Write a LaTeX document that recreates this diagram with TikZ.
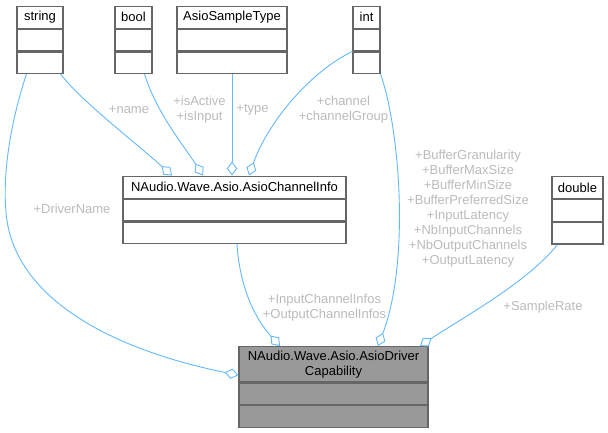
\documentclass[tikz,border=0pt]{standalone}
\usepackage{fontspec}
\setmainfont{Liberation Sans}
\usetikzlibrary{positioning, arrows.meta}
\definecolor{edgeblue}{HTML}{63B8FF}
\definecolor{boxgray}{HTML}{666666}
\definecolor{rolegray}{HTML}{BBBBBB}
\definecolor{capfill}{HTML}{999999}
\tikzset{
  classtitle/.style={draw=boxgray, line width=1.2pt, fill=white, align=center,
    font=\fontsize{13}{15}\selectfont, minimum height=22pt,
    inner xsep=3pt, inner ysep=4pt, anchor=north},
  classrow/.style={draw=boxgray, line width=1.2pt, fill=white,
    minimum height=21.5pt, inner sep=0pt}
}
\tikzset{
  assoc/.style={draw=edgeblue, line width=0.9pt,
    -{Diamond[open, length=14pt, width=10.5pt]}},
  rolelabel/.style={font=\fontsize{13}{15}\selectfont, text=rolegray, align=center}
}
% one class box: title and two empty compartments
\newcommand{\umlclass}[4][]{%
  \node[classtitle, #1] (#2) at #3 {#4};
  \node[classrow, #1, below=0pt of #2] (#2-a) {};
  \node[classrow, #1, below=0pt of #2-a] (#2-b) {};
}

\begin{document}
\begin{tikzpicture}[x=1pt, y=-1pt]
  \useasboundingbox (0,0) rectangle (608,432);
  \umlclass[minimum width=46pt]{str}{(40,5.5)}{string}
  \umlclass[minimum width=37pt]{bool}{(133.5,5.5)}{bool}
  \umlclass[minimum width=110pt]{ast}{(232,5.5)}{AsioSampleType}
  \umlclass[minimum width=27pt]{int}{(366.5,5.5)}{int}
  \umlclass[minimum width=223pt]{info}{(234.5,175.5)}{NAudio.Wave.Asio.AsioChannelInfo}
  \umlclass[minimum width=51pt]{dbl}{(577.5,176)}{double}
  \umlclass[minimum width=189pt, fill=capfill]{cap}{(333.5,346)}{NAudio.Wave.Asio.AsioDriver\\Capability}

  % members of AsioChannelInfo
  \draw[assoc] ([xshift=-3pt]str-b.south east)
    .. controls (82,102) and (135,142) .. ([xshift=-62.5pt]info.north);
  \draw[assoc] ([xshift=-8pt]bool-b.south east)
    .. controls (156,112) and (184,146) .. ([xshift=-31.5pt]info.north);
  \draw[assoc] (ast-b.south) -- (ast-b.south |- info.north);
  \draw[assoc] (int-a.south west)
    .. controls (310,72) and (268,122) .. ([xshift=14.5pt]info.north);
  \node[rolelabel] (l-name) at (129,110) {+name};
  \node[rolelabel] (l-flags) at (199.5,109.5) {+isActive\\+isInput};
  \node[rolelabel] (l-type) at (252.5,110) {+type};
  \node[rolelabel] (l-chan) at (343.5,109.5) {+channel\\+channelGroup};

  % members of AsioDriverCapability
  \draw[assoc] ([xshift=10pt]str-b.south west)
    .. controls (14,112) and (2,165) .. (6,212)
    .. controls (12,292) and (100,347) .. ([yshift=-11pt]cap.west);
  \draw[assoc] (int-b.south east)
    .. controls (400,130) and (410,262) .. ([xshift=44.5pt]cap.north);
  \draw[assoc] ([xshift=2.5pt]info-b.south)
    .. controls (240,292) and (258,322) .. ([xshift=-53.5pt]cap.north);
  \draw[assoc] ([xshift=6pt]dbl-b.south west)
    .. controls (528,282) and (462,318) .. ([xshift=86.5pt]cap.north);
  \node[rolelabel] (l-drv) at (72,208.7) {+DriverName};
  \node[rolelabel] (l-buf) at (468,209) {+BufferGranularity\\+BufferMaxSize\\+BufferMinSize\\+BufferPreferredSize\\+InputLatency\\+NbInputChannels\\+NbOutputChannels\\+OutputLatency};
  \node[rolelabel] (l-infos) at (324.5,308) {+InputChannelInfos\\+OutputChannelInfos};
  \node[rolelabel] (l-rate) at (543,307.3) {+SampleRate};
\end{tikzpicture}
\end{document}
